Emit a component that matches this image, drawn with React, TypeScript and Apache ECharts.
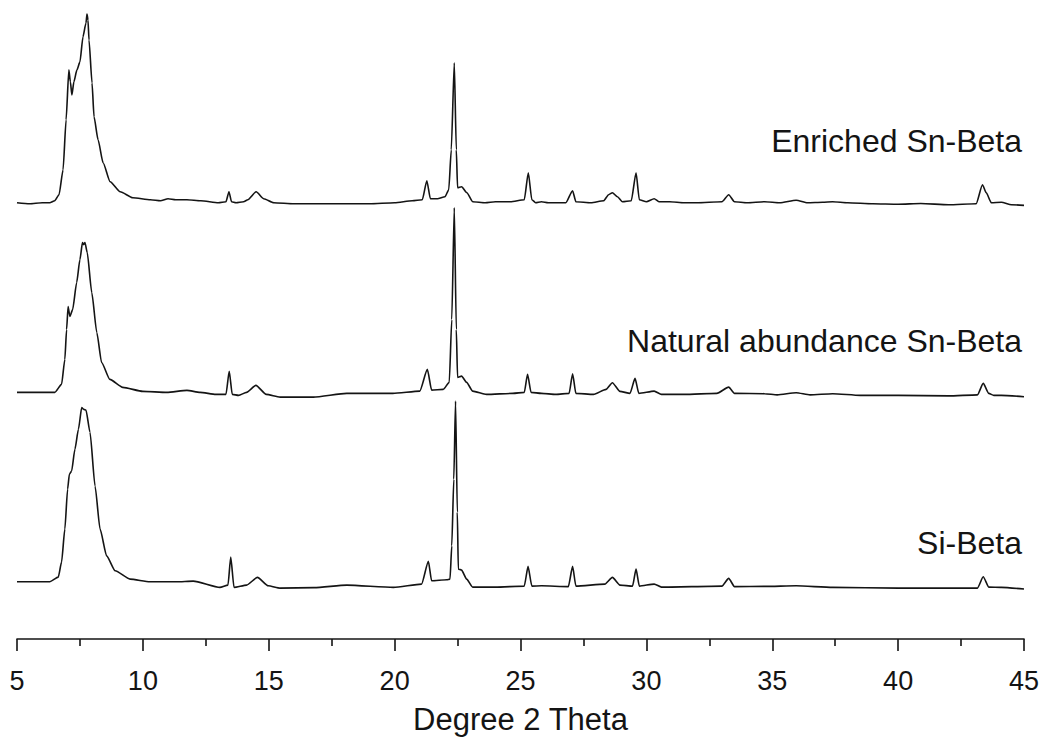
import React, { useEffect, useRef } from "react";
import * as echarts from "echarts";

// 2θ (degrees) vs intensity (a.u., above each pattern's own baseline)
const enriched: [number, number][] = [
  [5.0, 2], [5.5, 1], [6.0, 2], [6.3, 2], [6.5, 4], [6.67, 10], [6.83, 35], [6.95, 85],
  [7.06, 135], [7.12, 123], [7.18, 110], [7.26, 123], [7.38, 135], [7.5, 143], [7.62, 168],
  [7.74, 182], [7.78, 191], [7.82, 185], [7.86, 165], [7.98, 122], [8.06, 88], [8.22, 65],
  [8.42, 42], [8.7, 23], [9.1, 13], [9.6, 7], [10.3, 5], [10.7, 4], [11.0, 6], [11.3, 5],
  [11.75, 5], [12.3, 4], [13.0, 2], [13.3, 3], [13.42, 13], [13.52, 3], [13.7, 2], [14.0, 3],
  [14.17, 5], [14.5, 13], [14.8, 6], [15.2, 2], [16, 1], [17, 1], [18, 1], [19, 1], [20, 2],
  [20.7, 4], [21.1, 5], [21.28, 24], [21.42, 6], [21.7, 6], [22.0, 8], [22.15, 15], [22.25, 55],
  [22.37, 142], [22.45, 55], [22.5, 17], [22.66, 18], [22.87, 12], [23.1, 3], [23.6, 2], [24.0, 3],
  [24.6, 3], [25.15, 5], [25.31, 32], [25.45, 5], [25.6, 2], [25.83, 3], [26.1, 2], [26.8, 2],
  [27.07, 14], [27.2, 3], [27.8, 2], [28.3, 4], [28.5, 10], [28.65, 12], [28.85, 8], [29.05, 3],
  [29.4, 4], [29.59, 32], [29.72, 5], [30.0, 3], [30.31, 6], [30.5, 3], [30.93, 3], [31.5, 2],
  [32, 2], [33.0, 3], [33.27, 10], [33.5, 3], [34, 2], [34.7, 3], [35.3, 2], [35.95, 4.5],
  [36.4, 2], [37.0, 2.5], [37.4, 3], [38, 2], [39, 1], [40, 0.5], [40.9, 1.2], [42, 0],
  [43.1, 1], [43.35, 20], [43.5, 12], [43.7, 2], [44.1, 2.5], [44.5, 0], [45, -0.7],
];

const natural: [number, number][] = [
  [5.0, 4], [6.0, 4], [6.5, 4], [6.77, 12], [6.9, 37], [6.97, 67], [7.03, 90], [7.1, 80],
  [7.21, 87], [7.37, 114], [7.5, 137], [7.6, 154], [7.65, 152], [7.7, 154], [7.79, 144],
  [7.97, 104], [8.17, 64], [8.36, 34], [8.69, 17], [9.2, 9], [10.0, 5], [10.95, 4], [11.75, 6],
  [12.27, 4], [12.9, 2], [13.3, 2], [13.43, 25], [13.55, 2], [13.8, 1], [14.12, 4], [14.49, 11],
  [14.9, 2], [15.45, -0.7], [16.77, -0.7], [18.1, 3], [19.93, 3], [21.0, 5.3], [21.3, 27],
  [21.47, 6.3], [21.93, 7], [22.17, 14], [22.27, 77], [22.37, 189], [22.45, 67], [22.5, 19],
  [22.66, 20.3], [22.86, 14], [23.1, 5.3], [23.65, 2], [24.7, 3], [25.15, 4], [25.28, 22],
  [25.42, 4], [25.83, 3], [26.4, 2], [26.93, 3], [27.07, 22.7], [27.2, 3], [27.9, 2], [28.4, 7],
  [28.65, 13.7], [28.95, 5], [29.35, 3], [29.55, 18], [29.7, 3], [30.31, 5.3], [30.6, 2],
  [31.5, 2], [32.8, 3], [33.27, 9.3], [33.5, 3], [34.7, 2.7], [35.2, 1.5], [35.95, 3.7],
  [36.5, 1.5], [37.4, 2.7], [38.5, 1], [40, 1], [42, 0.5], [43.15, 1.5], [43.38, 13], [43.6, 3],
  [43.8, 1], [44.1, 1], [45, -0.3],
];

const siBeta: [number, number][] = [
  [5.0, 7.3], [6.3, 7.3], [6.64, 12], [6.77, 27], [6.9, 60], [7.01, 100], [7.08, 115],
  [7.17, 118.3], [7.3, 140], [7.44, 160], [7.57, 181.7], [7.65, 180], [7.74, 179.3], [7.9, 157],
  [8.1, 103.3], [8.3, 60], [8.56, 33.3], [8.9, 18.3], [9.49, 10], [10.28, 7.3], [11.34, 7.3],
  [12.0, 8], [13.06, 1.7], [13.38, 4], [13.49, 32], [13.62, 1.7], [14.12, 4], [14.55, 11.7],
  [14.98, 3.3], [15.45, 1], [16.8, 1.5], [18.1, 4], [19.95, 1.7], [21.07, 5], [21.34, 27.7],
  [21.47, 8.3], [22.07, 9.3], [22.2, 10], [22.27, 43.3], [22.35, 110], [22.42, 188.3],
  [22.49, 77], [22.53, 20], [22.66, 19], [22.86, 10], [23.1, 2], [24, 2], [25.15, 3],
  [25.3, 22.7], [25.45, 3], [25.83, 3.3], [26.9, 2.5], [27.07, 22.7], [27.2, 3], [28.35, 5],
  [28.65, 11.7], [28.95, 4], [29.45, 3], [29.59, 20], [29.72, 3], [30.31, 5], [30.6, 2],
  [33.0, 3], [33.27, 10.7], [33.5, 2.5], [34.7, 2.7], [35.95, 3.3], [37.4, 1.7], [40, 1],
  [43.15, 1], [43.38, 12.3], [43.6, 2], [44.1, 1.7], [45, 0],
];

// vertical stacking offsets (a.u.)
const offsets = { enriched: 435, natural: 243, siBeta: 50 };
const seriesNames = ["Enriched Sn-Beta", "Natural abundance Sn-Beta", "Si-Beta"];
const xTicks = { min: 5, max: 45, interval: 5 };
const xAxisTitle = "Degree 2 Theta";

const FONT = "'Liberation Sans', Arial, sans-serif";
const INK = "#141414";

export default function App() {
  const ref = useRef<HTMLDivElement>(null);
  useEffect(() => {
    if (!ref.current) return;
    const chart = echarts.init(ref.current, null, { renderer: "svg" });
    const shift = (d: [number, number][], o: number) => d.map(([x, y]) => [x, y + o]);
    const line = (name: string, data: number[][]) => ({
      name,
      type: "line",
      data,
      showSymbol: false,
      symbol: "none",
      clip: false,
      smooth: 0.2,
      smoothMonotone: "x",
      lineStyle: { color: INK, width: 1.6 },
    });
    const labelText = (text: string, top: number) => ({
      type: "text",
      right: 23,
      top,
      style: { text, font: `32px ${FONT}`, fill: INK },
    });
    chart.setOption({
      animation: false,
      backgroundColor: "#ffffff",
      grid: { left: 17, right: 21, top: 0, bottom: 100, containLabel: false },
      xAxis: {
        type: "value",
        min: xTicks.min,
        max: xTicks.max,
        interval: xTicks.interval,
        name: xAxisTitle,
        nameLocation: "middle",
        nameGap: 65,
        nameTextStyle: { fontSize: 31, fontFamily: FONT, color: INK, lineHeight: 31 },
        axisLine: { show: true, lineStyle: { color: INK, width: 1.6 } },
        axisTick: { show: true, inside: false, length: 12, lineStyle: { color: INK, width: 1.6 } },
        minorTick: { show: true, splitNumber: 2, length: 7, lineStyle: { color: INK, width: 1.6 } },
        splitLine: { show: false },
        axisLabel: {
          fontSize: 27,
          lineHeight: 27,
          fontFamily: FONT,
          color: INK,
          margin: 28,
          showMinLabel: true,
          showMaxLabel: true,
        },
      },
      yAxis: { type: "value", min: 0, max: 640, show: false },
      series: [
        line(seriesNames[0], shift(enriched, offsets.enriched)),
        line(seriesNames[1], shift(natural, offsets.natural)),
        line(seriesNames[2], shift(siBeta, offsets.siBeta)),
      ],
      graphic: [
        labelText(seriesNames[0], 125),
        labelText(seriesNames[1], 325),
        labelText(seriesNames[2], 527),
      ],
    });
    return () => chart.dispose();
  }, []);
  return (
    <div
      ref={ref}
      style={{ position: "absolute", left: 0, top: 0, width: 1045, height: 740, background: "#fff" }}
    />
  );
}
